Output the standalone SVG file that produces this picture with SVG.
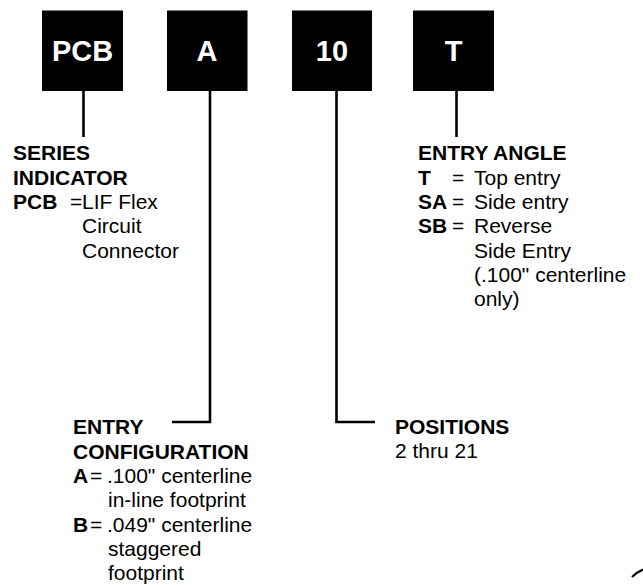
<svg xmlns="http://www.w3.org/2000/svg" width="643" height="585" viewBox="0 0 643 585">
<style>
.box{fill:#000}
.bt{font-family:"Liberation Sans",Arial,sans-serif;font-size:29px;font-weight:bold;fill:#fff;text-anchor:middle}
.h{font-family:"Liberation Sans",Arial,sans-serif;font-size:21px;font-weight:bold;fill:#000}
.t{font-family:"Liberation Sans",Arial,sans-serif;font-size:21px;fill:#000}
.ln{fill:none;stroke:#000;stroke-width:2.6}
</style>
<rect width="643" height="585" fill="#fff"/>
<g id="connectors">
<path class="ln" d="M83.5 91V137"/>
<path class="ln" d="M210 91V422H172"/>
<path class="ln" d="M336.5 91V422H375"/>
<path class="ln" d="M456.5 91V137"/>
</g>
<g id="box-pcb"><rect class="box" x="42" y="10.5" width="81" height="80.5"/><text class="bt" x="82.5" y="60.5">PCB</text></g>
<g id="box-a"><rect class="box" x="167" y="10.5" width="80.5" height="80.5"/><text class="bt" x="207" y="60.5">A</text></g>
<g id="box-10"><rect class="box" x="292" y="10.5" width="80" height="80.5"/><text class="bt" x="332" y="60.5">10</text></g>
<g id="box-t"><rect class="box" x="413" y="10.5" width="81" height="80.5"/><text class="bt" x="453.5" y="60.5">T</text></g>
<g id="series">
<text class="h" x="13" y="160">SERIES</text>
<text class="h" x="13" y="184.5">INDICATOR</text>
<text class="h" x="13" y="209">PCB</text><text class="t" x="70" y="209">=</text><text class="t" x="82" y="209">LIF Flex</text>
<text class="t" x="82" y="233">Circuit</text>
<text class="t" x="82" y="257.5">Connector</text>
</g>
<g id="entry-angle">
<text class="h" x="418" y="160">ENTRY ANGLE</text>
<text class="h" x="418" y="184.5">T</text><text class="t" x="452" y="184.5">=</text><text class="t" x="474" y="184.5">Top entry</text>
<text class="h" x="418" y="209">SA</text><text class="t" x="452" y="209">=</text><text class="t" x="474" y="209">Side entry</text>
<text class="h" x="418" y="233">SB</text><text class="t" x="452" y="233">=</text><text class="t" x="474" y="233">Reverse</text>
<text class="t" x="474" y="257.5">Side Entry</text>
<text class="t" x="474" y="282">(.100" centerline</text>
<text class="t" x="474" y="306">only)</text>
</g>
<g id="entry-config">
<text class="h" x="73" y="434">ENTRY</text>
<text class="h" x="73" y="458.5">CONFIGURATION</text>
<text class="h" x="73" y="483">A</text><text class="t" x="90" y="483">=</text><text class="t" x="107" y="483">.100" centerline</text>
<text class="t" x="108" y="507">in-line footprint</text>
<text class="h" x="73" y="531.5">B</text><text class="t" x="90" y="531.5">=</text><text class="t" x="107" y="531.5">.049" centerline</text>
<text class="t" x="108" y="556">staggered</text>
<text class="t" x="108" y="580">footprint</text>
</g>
<g id="positions">
<text class="h" x="395" y="434">POSITIONS</text>
<text class="t" x="395" y="458">2 thru 21</text>
</g>
<path d="M632 577Q637 572 643 569.5" fill="none" stroke="#000" stroke-width="2.2"/>
</svg>
